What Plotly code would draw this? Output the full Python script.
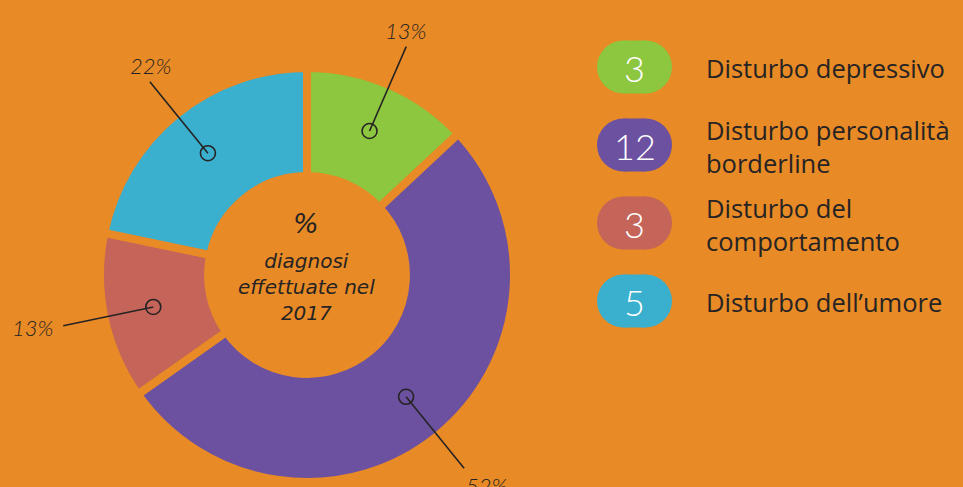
import math
import plotly.graph_objects as go

# ---------------- data ----------------
categories = ["Disturbo depressivo", "Disturbo personalità borderline",
              "Disturbo del comportamento", "Disturbo dell’umore"]
legend_labels = ["Disturbo depressivo", "Disturbo personalità<br>borderline",
                 "Disturbo del<br>comportamento", "Disturbo dell’umore"]
values = [3, 12, 3, 5]
center_symbol = "%"
center_lines = ["diagnosi", "effettuate nel", "2017"]

# ---------------- style ----------------
W, H = 963, 487
BG = "#E88A25"
colors = ["#8DC63F", "#6C51A1", "#C5655A", "#3AAFCE"]
DARK = "#262324"
FONT = "Lato, 'Open Sans', sans-serif"
FONT2 = "'Open Sans', Lato, sans-serif"
FONT3 = "'DejaVu Sans', 'Open Sans', sans-serif"

CX, CY = 307, 275          # donut centre (px)
R_PIE = 207                # plotly pie radius (px)
HOLE = 0.478
R_MARK, R_END = 157, 249   # leader line radii (px)
MARK_R = 7.5
# label anchoring for each slice: (xanchor, yanchor, dx, dy)
label_anchor = [("center", "bottom", -1, -1), ("left", "top", 0, 2),
                ("right", "middle", -8, 2), ("center", "bottom", 1, -1)]

LEG_X0, LEG_W, LEG_H = 597, 75, 53
LEG_Y0, LEG_STEP = 67, 78
LEG_TX = 704

total = sum(values)
pcts = [round(v / total * 100) for v in values]

fig = go.Figure()

# donut
fig.add_trace(go.Pie(
    values=values, labels=categories, sort=False, direction="clockwise",
    rotation=0, hole=HOLE, textinfo="none", hoverinfo="label+value+percent",
    marker=dict(colors=colors, line=dict(color=BG, width=8)),
    domain=dict(x=[(CX - R_PIE) / W, (CX + R_PIE) / W],
                y=[(H - CY - R_PIE) / H, (H - CY + R_PIE) / H]),
    showlegend=False,
))

# invisible trace to activate the pixel-based cartesian axes
fig.add_trace(go.Scatter(x=[0, W], y=[0, H], mode="markers",
                         marker=dict(opacity=0), hoverinfo="skip",
                         showlegend=False))

shapes = []
annotations = []

# leader lines, markers and percent labels (positions from slice mid-angles)
cum = 0
for i, v in enumerate(values):
    mid = (cum + v / 2) / total * 2 * math.pi
    cum += v
    sx, sy = math.sin(mid), -math.cos(mid)
    x0, y0 = CX + R_MARK * sx, CY + R_MARK * sy
    x1, y1 = CX + R_END * sx, CY + R_END * sy
    shapes.append(dict(type="line", xref="x", yref="y", x0=x0, y0=y0,
                       x1=x1, y1=y1, line=dict(color=DARK, width=1.6),
                       layer="above"))
    shapes.append(dict(type="circle", xref="x", yref="y",
                       x0=x0 - MARK_R, x1=x0 + MARK_R,
                       y0=y0 - MARK_R, y1=y0 + MARK_R,
                       line=dict(color=DARK, width=1.6),
                       fillcolor="rgba(0,0,0,0)", layer="above"))
    xa, ya, dx, dy = label_anchor[i]
    annotations.append(dict(
        x=x1 + dx, y=y1 + dy, xref="x", yref="y", text=f"<i>{pcts[i]}%</i>",
        showarrow=False, xanchor=xa, yanchor=ya,
        font=dict(family=FONT, size=22, color=DARK, weight=300)))

# centre text
annotations.append(dict(x=CX - 1, y=223, xref="x", yref="y",
                        text=f"<i>{center_symbol}</i>", showarrow=False,
                        xanchor="center", yanchor="middle",
                        font=dict(family=FONT3, size=27, color=DARK)))
annotations.append(dict(x=CX - 1, y=287, xref="x", yref="y",
                        text="<br>".join(f"<i>{t}</i>" for t in center_lines),
                        showarrow=False, xanchor="center", yanchor="middle",
                        align="center",
                        font=dict(family=FONT3, size=20, color=DARK)))

# legend pills
r = LEG_H / 2
for i, (lab, v, c) in enumerate(zip(legend_labels, values, colors)):
    yc = LEG_Y0 + i * LEG_STEP
    shapes.append(dict(type="rect", xref="x", yref="y",
                       x0=LEG_X0 + r, x1=LEG_X0 + LEG_W - r,
                       y0=yc - r, y1=yc + r, fillcolor=c, line_width=0))
    for cxp in (LEG_X0 + r, LEG_X0 + LEG_W - r):
        shapes.append(dict(type="circle", xref="x", yref="y",
                           x0=cxp - r, x1=cxp + r, y0=yc - r, y1=yc + r,
                           fillcolor=c, line_width=0))
    annotations.append(dict(x=LEG_X0 + LEG_W / 2, y=yc + 1, xref="x", yref="y",
                            text=str(v), showarrow=False, xanchor="center",
                            yanchor="middle",
                            font=dict(family=FONT, size=36, color="white",
                                      weight=300)))
    annotations.append(dict(x=LEG_TX, y=yc + 1, xref="x", yref="y", text=lab,
                            showarrow=False, xanchor="left", yanchor="middle",
                            align="left",
                            font=dict(family=FONT2, size=25.5, color=DARK)))

fig.update_layout(
    width=W, height=H, margin=dict(l=0, r=0, t=0, b=0),
    paper_bgcolor=BG, plot_bgcolor="rgba(0,0,0,0)",
    xaxis=dict(range=[0, W], visible=False, fixedrange=True, domain=[0, 1]),
    yaxis=dict(range=[H, 0], visible=False, fixedrange=True, domain=[0, 1]),
    shapes=shapes, annotations=annotations, showlegend=False,
)

fig.write_html("out.html",
               config={"displayModeBar": False},
               post_script="document.body.style.margin='0';"
                           "document.body.style.overflow='hidden';"
                           f"document.body.style.background='{BG}';")
